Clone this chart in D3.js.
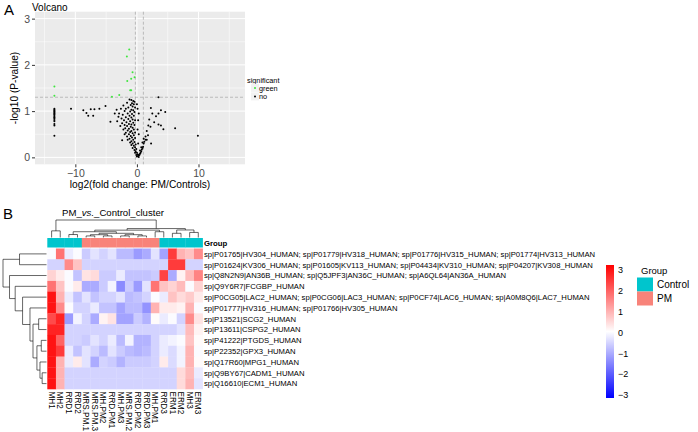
<!DOCTYPE html>
<html>
<head>
<meta charset="utf-8">
<script src="https://cdn.jsdelivr.net/npm/d3@7/dist/d3.min.js"></script>
<style>
  body { margin: 0; background: #fff; }
  svg { font-family: "Liberation Sans", Arial, sans-serif; }
</style>
</head>
<body>
<svg id="fig" width="698" height="432"></svg>
<script>
// ---------------- data: volcano (panel A) ----------------
const volcanoGreen = [[-1.25,2.33],[-1.63,2.18],[-0.71,1.84],[-0.38,1.73],[-0.93,1.70],[-1.57,1.65],
  [-1.09,1.45],[-0.93,1.45],[-2.87,1.35],[-4.06,1.31],[-13.4,1.53],[-13.4,1.33]];

const volcanoNo = [
  [-13.4,1.05],[-13.4,1.03],[-13.4,1.01],[-13.4,0.99],[-13.4,0.97],[-13.4,0.95],[-13.4,0.93],[-13.4,0.91],
  [-13.4,0.88],[-13.4,0.86],[-13.4,0.84],[-13.4,0.81],[-13.4,0.78],[-13.4,0.72],[-13.4,0.69],[-13.4,0.47],
  [-10.7,1.05],[-8.7,1.02],[-8.2,0.96],[-7.9,0.9],[-7.5,1.04],[-7.1,0.9],[-6.9,1.04],[-6.1,1.05],[-5.1,1.11],
  [-4.3,0.77],[-3.6,0.95],[-3.3,1.03],
  [-1.2,1.25],[-0.9,1.24],[-0.6,1.22],[-0.4,1.2],[-1.6,1.18],[-0.8,1.17],[-0.5,1.15],[-1.0,1.13],[-2.2,1.12],
  [-0.7,1.1],[-1.4,1.08],[-0.3,1.08],[-2.6,1.05],[-1.8,1.05],[-0.9,1.03],[-0.6,1.02],[-2.0,1.0],[-1.1,0.99],
  [-0.4,0.98],[-2.9,0.95],[-1.5,0.95],[-0.8,0.94],[-2.3,0.92],[-1.2,0.9],[-0.5,0.9],[-3.0,0.88],[-1.8,0.87],
  [-0.9,0.86],[-2.5,0.84],[-1.4,0.83],[-0.7,0.82],[-0.3,0.8],[-2.1,0.8],[-1.1,0.78],[-3.2,0.78],[-1.7,0.76],
  [-0.6,0.75],[-2.4,0.74],[-1.3,0.72],[-0.9,0.71],[-2.0,0.7],[-0.4,0.7],[-1.6,0.68],[-2.7,0.68],[-1.0,0.66],
  [-0.7,0.64],[-1.9,0.63],[-1.3,0.62],[-0.5,0.6],[-2.2,0.6],[-1.5,0.58],[-0.9,0.57],[-1.1,0.55],[-0.3,0.54],
  [-1.8,0.53],[-0.7,0.52],[-1.3,0.5],[-2.0,0.5],[-0.5,0.48],[-1.0,0.46],[-1.6,0.45],[-0.8,0.43],[-0.3,0.42],
  [-1.2,0.4],[-0.6,0.38],[-1.5,0.38],[-2.4,0.37],[-0.9,0.35],[-0.4,0.33],[-1.1,0.32],[-0.7,0.3],[-0.2,0.28],
  [-0.9,0.27],[-0.5,0.25],[-0.3,0.22],[-0.7,0.2],[-0.1,0.18],[-0.4,0.16],[-0.2,0.13],[0.0,0.1],[-0.3,0.1],
  [0.1,0.07],[-0.1,0.05],[0.2,0.03],[0.0,0.02],[0.3,0.01],[0.26,0.05],
  [0.4,0.05],[0.5,0.08],[0.6,0.1],[0.7,0.13],[0.5,0.15],[0.8,0.17],[0.9,0.2],[0.7,0.22],[1.0,0.23],[1.1,0.3],
  [0.9,0.32],[1.2,0.34],[1.4,0.38],[1.1,0.4],[1.6,0.38],[1.4,0.45],[1.8,0.48],[1.6,0.57],[2.3,0.3],[0.2,0.3],
  [0.3,0.5],[0.1,0.6],[0.2,0.8],[0.3,0.95],[0.1,1.05],[0.0,1.15],
  [2.27,1.07],[2.5,0.95],[2.0,0.82],[1.85,0.69],[2.8,0.76],[3.5,0.71],[3.9,0.69],[3.1,0.89],[3.5,0.95],
  [3.9,1.02],[4.6,0.98],[4.3,0.61],[6.2,0.63],[9.9,0.47],[3.5,1.3],[2.2,0.66]
];
const volcanoXTicks = [-10, 0, 10];
const volcanoYTicks = [0, 1, 2, 3];
const fcCutoffs = [-0.25, 1.05];
const pCutoff = 1.3;

// ---------------- data: heatmap (panel B) ----------------
const sampleNames = ["MH1","MH2","RRD1","RRD2","MRS.PM.1","MRS.PM.3","MH.PM2","RRD.PM1","MH.PM3",
  "MRS.PM.2","RRD.PM2","RRD.PM3","MH.PM1","RRD3","ERM1","ERM2","MH3","ERM3"];
const sampleGroups = ["Control","Control","Control","Control","PM","PM","PM","PM","PM",
  "PM","PM","PM","PM","Control","Control","Control","Control","Control"];
const proteinIds = ["P01765","P01624","Q8N2N9","Q9Y6R7","P0CG05","P01777","P13521","P13611",
  "P41222","P22352","Q17R60","Q9BY67","Q16610"];
const proteinLabels = [
  "sp|P01765|HV304_HUMAN; sp|P01779|HV318_HUMAN; sp|P01776|HV315_HUMAN; sp|P01774|HV313_HUMAN",
  "sp|P01624|KV306_HUMAN; sp|P01605|KV113_HUMAN; sp|P04434|KV310_HUMAN; sp|P04207|KV308_HUMAN",
  "sp|Q8N2N9|AN36B_HUMAN; sp|Q5JPF3|AN36C_HUMAN; sp|A6QL64|AN36A_HUMAN",
  "sp|Q9Y6R7|FCGBP_HUMAN",
  "sp|P0CG05|LAC2_HUMAN; sp|P0CG06|LAC3_HUMAN; sp|P0CF74|LAC6_HUMAN; sp|A0M8Q6|LAC7_HUMAN",
  "sp|P01777|HV316_HUMAN; sp|P01766|HV305_HUMAN",
  "sp|P13521|SCG2_HUMAN",
  "sp|P13611|CSPG2_HUMAN",
  "sp|P41222|PTGDS_HUMAN",
  "sp|P22352|GPX3_HUMAN",
  "sp|Q17R60|MPG1_HUMAN",
  "sp|Q9BY67|CADM1_HUMAN",
  "sp|Q16610|ECM1_HUMAN"
];
// row-scaled abundance (z-score), one row per protein, columns in sampleNames order
const zScores = [
  [0.0,1.8,-0.2,0.0,-0.6,-0.3,-0.5,-0.3,-0.8,-0.8,-1.2,-1.0,-0.3,-1.1,2.5,1.0,0.8,1.5],
  [-0.5,-0.5,1.5,0.8,-0.5,-0.5,-0.5,-0.5,-0.5,-0.5,-0.5,-0.5,-0.5,-0.5,2.5,2.5,-0.5,-0.5],
  [0.6,0.3,0.0,-0.7,0.4,0.5,-0.6,-0.6,-0.2,-0.7,-0.7,-0.7,-0.6,2.4,-1.0,0.2,0.9,1.6],
  [1.8,0.8,0.0,0.3,-1.0,-1.0,-0.6,-0.1,-1.4,-0.6,-1.2,-0.3,1.8,0.8,0.6,0.9,0.0,0.6],
  [3.0,1.0,-0.2,-0.7,-0.3,-0.7,-0.5,-0.5,-0.3,-0.8,-0.7,-0.5,0.0,-0.2,0.8,0.5,0.7,0.3],
  [3.0,1.5,0.0,-0.5,-0.5,-0.2,-0.7,-0.7,-1.1,-0.8,-0.8,-1.3,1.0,0.3,0.3,0.2,1.0,0.0],
  [2.3,2.8,-1.2,-0.1,-0.5,-1.0,0.2,0.4,-1.1,-1.1,-0.6,-0.9,0.1,-0.2,0.0,-0.5,1.5,0.4],
  [2.8,2.8,-0.5,-0.5,-0.5,-0.5,-0.5,-0.5,-0.5,-0.5,-0.5,-0.5,-0.5,-0.5,-0.5,-0.3,0.9,0.2],
  [3.0,2.0,-0.5,-0.5,-0.6,-0.3,-0.5,-0.2,-0.8,-0.1,-0.9,-0.9,-0.5,-0.2,-0.1,0.0,0.8,0.1],
  [3.0,2.5,-0.2,-0.7,-0.3,-0.5,-0.8,-0.3,-0.6,-0.8,-0.9,-0.8,-0.5,-0.2,-0.4,-0.1,1.0,0.0],
  [3.0,1.0,-0.2,0.3,-0.3,-1.0,-0.5,-0.6,-0.9,-0.6,-0.6,-0.6,-0.5,0.3,-0.4,-0.1,1.0,0.1],
  [3.0,1.0,-0.5,-0.5,-0.5,-0.5,-0.5,-0.5,-0.5,-0.5,-0.5,-0.5,-0.5,-0.5,-0.5,0.5,0.9,-0.2],
  [3.0,1.0,-0.5,-0.5,-0.5,-0.5,-0.5,-0.5,-0.5,-0.5,-0.5,-0.5,-0.5,-0.5,-0.5,0.5,1.0,-0.3]
];
const zRange = [-3.14, 3.24];
const legendTicks = [-3, -2, -1, 0, 1, 2, 3];
const groupNames = ["Control", "PM"];
const groupColors = ["#00C5CD", "#F8837A"];

// clustering trees: [height, left, right]; leaves are names
const sampleTree = [1.0,
  [0.38, "MH1", "MH2"],
  [0.51,
    [0.42,
      [0.33,
        [0.17, "RRD1", "RRD2"],
        [0.24,
          [0.16, [0.09, "MRS.PM.1", "MRS.PM.3"], [0.09, "MH.PM2", "RRD.PM1"]],
          [0.16, [0.09, "MH.PM3", "MRS.PM.2"], [0.09, "RRD.PM2", "RRD.PM3"]]]],
      [0.33, "MH.PM1", "RRD3"]],
    [0.43, [0.24, "ERM1", "ERM2"], [0.29, "MH3", "ERM3"]]]];

const proteinTree = [1.0,
  [0.62, "P01765", "P01624"],
  [0.85, "Q8N2N9",
    [0.72, "Q9Y6R7",
      [0.55, "P0CG05",
        [0.38, "P01777",
          [0.31,
            [0.18, "P13521", "P13611"],
            [0.22, [0.12, "P41222", "P22352"], [0.15, "Q17R60", [0.1, "Q9BY67", "Q16610"]]]]]]]]];

// ---------------- drawing ----------------
const svg = d3.select("#fig");
const minus = d => d < 0 ? "\u2212" + Math.abs(d) : String(d);

// ===== Panel A =====
const vx = d3.scaleLinear().domain([-16.55, 17.55]).range([35, 245]);
const vy = d3.scaleLinear().domain([-0.15, 3.15]).range([164.3, 11.7]);

svg.append("text").attr("x", 4).attr("y", 15).attr("font-size", 15).text("A");
svg.append("text").attr("x", 32).attr("y", 10.5).attr("font-size", 10).text("Volcano");

const gA = svg.append("g");
gA.append("rect").attr("x", vx.range()[0]).attr("y", vy.range()[1])
  .attr("width", vx.range()[1] - vx.range()[0]).attr("height", vy.range()[0] - vy.range()[1])
  .attr("fill", "#EBEBEB");

const minorX = [-15, -5, 5, 15], minorY = [0.5, 1.5, 2.5];
gA.selectAll(".mx").data(minorX).join("line")
  .attr("x1", d => vx(d)).attr("x2", d => vx(d)).attr("y1", vy.range()[1]).attr("y2", vy.range()[0])
  .attr("stroke", "#fff").attr("stroke-width", 0.5);
gA.selectAll(".my").data(minorY).join("line")
  .attr("x1", vx.range()[0]).attr("x2", vx.range()[1]).attr("y1", d => vy(d)).attr("y2", d => vy(d))
  .attr("stroke", "#fff").attr("stroke-width", 0.5);
gA.selectAll(".gx").data(volcanoXTicks).join("line")
  .attr("x1", d => vx(d)).attr("x2", d => vx(d)).attr("y1", vy.range()[1]).attr("y2", vy.range()[0])
  .attr("stroke", "#fff").attr("stroke-width", 1);
gA.selectAll(".gy").data(volcanoYTicks).join("line")
  .attr("x1", vx.range()[0]).attr("x2", vx.range()[1]).attr("y1", d => vy(d)).attr("y2", d => vy(d))
  .attr("stroke", "#fff").attr("stroke-width", 1);

// cut-off lines
gA.selectAll(".vcut").data(fcCutoffs).join("line")
  .attr("x1", d => vx(d)).attr("x2", d => vx(d)).attr("y1", vy.range()[1]).attr("y2", vy.range()[0])
  .attr("stroke", "#999").attr("stroke-width", 0.6).attr("stroke-dasharray", "3,2");
gA.append("line").attr("x1", vx.range()[0]).attr("x2", vx.range()[1])
  .attr("y1", vy(pCutoff)).attr("y2", vy(pCutoff))
  .attr("stroke", "#999").attr("stroke-width", 0.6).attr("stroke-dasharray", "3,2");

gA.selectAll(".pn").data(volcanoNo).join("circle")
  .attr("cx", d => vx(d[0])).attr("cy", d => vy(d[1])).attr("r", 1).attr("fill", "#000");
gA.selectAll(".pg").data(volcanoGreen).join("circle")
  .attr("cx", d => vx(d[0])).attr("cy", d => vy(d[1])).attr("r", 1).attr("fill", "#3EE63E");

const axX = gA.append("g").attr("transform", `translate(0,${vy.range()[0]})`)
  .call(d3.axisBottom(vx).tickValues(volcanoXTicks).tickSize(3).tickPadding(2).tickFormat(minus));
const axY = gA.append("g").attr("transform", `translate(${vx.range()[0]},0)`)
  .call(d3.axisLeft(vy).tickValues(volcanoYTicks).tickSize(3).tickPadding(2).tickFormat(minus));
[axX, axY].forEach(a => {
  a.select(".domain").remove();
  a.selectAll(".tick line").attr("stroke", "#333");
  a.selectAll(".tick text").attr("fill", "#4D4D4D").attr("font-size", 10.5)
    .attr("font-family", "Liberation Sans, Arial, sans-serif");
});

svg.append("text").attr("x", 140).attr("y", 188).attr("text-anchor", "middle")
  .attr("font-size", 10.2).text("log2(fold change: PM/Controls)");
svg.append("text").attr("transform", "translate(18,88) rotate(-90)").attr("text-anchor", "middle")
  .attr("font-size", 10.2).text("-log10 (P-value)");

// legend
svg.append("text").attr("x", 247).attr("y", 82.5).attr("font-size", 7.3).text("significant");
[["green", "#3EE63E"], ["no", "#000"]].forEach((d, i) => {
  const cy = 87.9 + i * 8.5;
  svg.append("rect").attr("x", 251).attr("y", cy - 4).attr("width", 8).attr("height", 8).attr("fill", "#F2F2F2");
  svg.append("circle").attr("cx", 255).attr("cy", cy).attr("r", 1).attr("fill", d[1]);
  svg.append("text").attr("x", 259).attr("y", cy + 2.6).attr("font-size", 7.3).text(d[0]);
});

// ===== Panel B =====
svg.append("text").attr("x", 3).attr("y", 219).attr("font-size", 15).text("B");
const title = svg.append("text").attr("x", 113).attr("y", 216).attr("text-anchor", "middle").attr("font-size", 9.6);
title.append("tspan").text("PM_");
title.append("tspan").attr("font-style", "italic").text("vs.");
title.append("tspan").text("_Control_cluster");

const barTop = 238, barH = 9.5;
const cx = d3.scaleBand().domain(sampleNames).range([47.3, 202.6]);
const ry = d3.scaleBand().domain(proteinIds).range([248.5, 389]);
const color = d3.scaleLinear().domain([zRange[0], 0.05, zRange[1]]).range(["#0000FF", "#FFFFFF", "#FF0000"]);
const groupColor = d3.scaleOrdinal().domain(groupNames).range(groupColors);

// cells
const cells = [];
zScores.forEach((row, i) => row.forEach((v, j) => cells.push({ r: proteinIds[i], c: sampleNames[j], v })));
svg.append("g").selectAll("rect").data(cells).join("rect")
  .attr("x", d => cx(d.c)).attr("y", d => ry(d.r))
  .attr("width", cx.bandwidth() + 0.3).attr("height", ry.bandwidth() + 0.3)
  .attr("fill", d => color(d.v));

// group annotation bar
svg.append("g").selectAll("rect").data(sampleNames).join("rect")
  .attr("x", d => cx(d)).attr("y", barTop).attr("width", cx.bandwidth() + 0.3).attr("height", barH)
  .attr("fill", (d, i) => groupColor(sampleGroups[i]));
svg.append("text").attr("x", 204).attr("y", barTop + barH / 2 + 2.8).attr("font-size", 7.8)
  .attr("font-weight", "bold").text("Group");

// row labels
svg.append("g").selectAll("text").data(proteinLabels).join("text")
  .attr("x", 204).attr("y", (d, i) => ry(proteinIds[i]) + ry.bandwidth() / 2 + 2.8)
  .attr("font-size", 7.7).text(d => d);

// column labels
svg.append("g").selectAll("text").data(sampleNames).join("text")
  .attr("transform", d => `translate(${cx(d) + cx.bandwidth() / 2 - 2.9},391.5) rotate(90)`)
  .attr("font-size", 8.2).text(d => d);

// dendrograms
function drawTree(g, tree, leafPos, hPos, vertical) {
  // returns [position, height] of node
  function walk(node) {
    if (typeof node === "string") return [leafPos(node), 0];
    const [h, a, b] = node;
    const pa = walk(a), pb = walk(b);
    const seg = (p1, h1, p2, h2) => vertical
      ? g.append("line").attr("x1", p1).attr("x2", p2).attr("y1", hPos(h1)).attr("y2", hPos(h2))
      : g.append("line").attr("y1", p1).attr("y2", p2).attr("x1", hPos(h1)).attr("x2", hPos(h2));
    seg(pa[0], h, pb[0], h);
    seg(pa[0], h, pa[0], pa[1]);
    seg(pb[0], h, pb[0], pb[1]);
    return [(pa[0] + pb[0]) / 2, h];
  }
  walk(tree);
  g.selectAll("line").attr("stroke", "#000").attr("stroke-width", 0.6);
}
const colH = d3.scaleLinear().domain([0, 1]).range([237.5, 220]);
drawTree(svg.append("g"), sampleTree, d => cx(d) + cx.bandwidth() / 2, colH, true);
const rowH = d3.scaleLinear().domain([0, 1]).range([46.5, 3]);
drawTree(svg.append("g"), proteinTree, d => ry(d) + ry.bandwidth() / 2, rowH, false);

// colour key
const ky = d3.scaleLinear().domain(zRange).range([398, 265]);
const grad = svg.append("defs").append("linearGradient").attr("id", "kg")
  .attr("x1", 0).attr("x2", 0).attr("y1", 1).attr("y2", 0);
d3.range(0, 1.0001, 0.05).forEach(t => {
  const v = zRange[0] + t * (zRange[1] - zRange[0]);
  grad.append("stop").attr("offset", t).attr("stop-color", color(v));
});
svg.append("rect").attr("x", 606).attr("y", ky(zRange[1])).attr("width", 8)
  .attr("height", ky(zRange[0]) - ky(zRange[1])).attr("fill", "url(#kg)");
svg.append("g").selectAll("text").data(legendTicks).join("text")
  .attr("x", 618).attr("y", d => ky(d) + 3.2).attr("font-size", 9)
  .text(minus);

// group legend
svg.append("text").attr("x", 641).attr("y", 273.5).attr("font-size", 9.5).text("Group");
groupNames.forEach((gname, i) => {
  svg.append("rect").attr("x", 637).attr("y", 277.5 + i * 14).attr("width", 16).attr("height", 14)
    .attr("fill", groupColor(gname));
  svg.append("text").attr("x", 657).attr("y", 288 + i * 14).attr("font-size", 10).text(gname);
});
</script>
</body>
</html>
